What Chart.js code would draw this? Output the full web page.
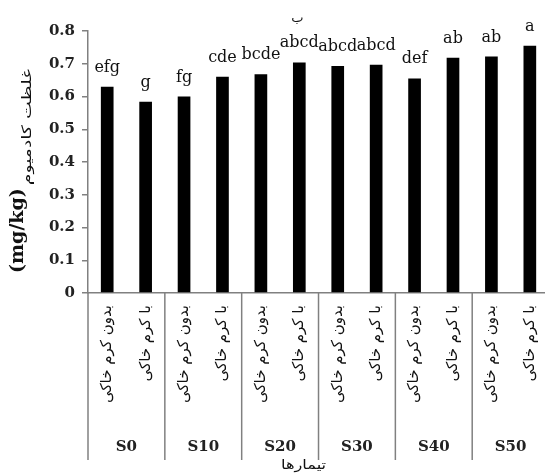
<!DOCTYPE html>
<html>
<head>
<meta charset="utf-8">
<script src="https://cdn.jsdelivr.net/npm/chart.js@4.4.0/dist/chart.umd.min.js"></script>
<style>
html,body{margin:0;padding:0;background:#fff;overflow:hidden;}
#wrap{width:545px;height:474px;overflow:hidden;position:relative;}
#box{width:560px;height:474px;position:absolute;left:0;top:0;}
</style>
</head>
<body>
<div id="wrap"><div id="box"><canvas id="c"></canvas></div></div>
<script>
const categories = ['بدون کرم خاکی','با کرم خاکی','بدون کرم خاکی','با کرم خاکی','بدون کرم خاکی','با کرم خاکی','بدون کرم خاکی','با کرم خاکی','بدون کرم خاکی','با کرم خاکی','بدون کرم خاکی','با کرم خاکی'];
const groups = ['S0','S10','S20','S30','S40','S50'];
const values = [0.630, 0.584, 0.600, 0.660, 0.668, 0.704, 0.693, 0.697, 0.655, 0.718, 0.722, 0.755];
const letters = ['efg','g','fg','cde','bcde','abcd','abcd','abcd','def','ab','ab','a'];
const extraMarks = [{index: 5, text: 'ب'}];
const yTicks = [0, 0.1, 0.2, 0.3, 0.4, 0.5, 0.6, 0.7, 0.8];
const yTitleUnit = '(mg/kg)';
const yTitleText = 'غلظت کادمیوم';
const xTitle = 'تیمارها';

const AXIS = '#808080';

const decor = {
  id: 'decor',
  afterDatasetsDraw(chart) {
    const ctx = chart.ctx;
    const meta = chart.getDatasetMeta(0);
    ctx.save();
    ctx.fillStyle = '#111';
    ctx.textAlign = 'center';
    ctx.textBaseline = 'alphabetic';
    ctx.font = '16px "DejaVu Serif"';
    meta.data.forEach((bar, i) => {
      ctx.fillText(letters[i], bar.x, bar.y - 15);
    });
    ctx.font = '13px "DejaVu Sans"';
    extraMarks.forEach(m => {
      const bar = meta.data[m.index];
      ctx.fillText(m.text, bar.x - 2, bar.y - 40);
    });
    ctx.restore();
  },
  afterDraw(chart) {
    const ctx = chart.ctx;
    const xs = chart.scales.x;
    const area = chart.chartArea;
    const cw = xs.getPixelForValue(1) - xs.getPixelForValue(0);
    ctx.save();
    ctx.strokeStyle = AXIS;
    ctx.lineWidth = 1.5;
    for (let g = 0; g <= groups.length; g++) {
      const px = g < groups.length ? xs.getPixelForValue(g * 2) - cw / 2 : xs.getPixelForValue(g * 2 - 1) + cw / 2;
      ctx.beginPath();
      ctx.moveTo(px, area.bottom);
      ctx.lineTo(px, chart.height - 14);
      ctx.stroke();
    }
    // y title
    ctx.fillStyle = '#111';
    ctx.translate(23, area.bottom - 20);
    ctx.rotate(-Math.PI / 2);
    ctx.textAlign = 'left';
    ctx.textBaseline = 'alphabetic';
    ctx.font = 'bold 19px "DejaVu Serif"';
    ctx.fillText(yTitleUnit, 0, 0);
    const w = ctx.measureText(yTitleUnit).width;
    ctx.font = '13px "DejaVu Sans"';
    ctx.translate(w + 3, 8);
    ctx.scale(1.45, 1);
    ctx.fillText(yTitleText, 0, 0);
    ctx.restore();
    // x title
    ctx.save();
    ctx.fillStyle = '#111';
    ctx.font = '13px "DejaVu Sans"';
    ctx.textAlign = 'center';
    ctx.textBaseline = 'middle';
    ctx.translate((area.left + area.right) / 2 - 15, chart.height - 8);
    ctx.scale(1.25, 1);
    ctx.fillText(xTitle, 0, 0);
    ctx.restore();
  }
};

new Chart(document.getElementById('c'), {
  type: 'bar',
  data: {
    labels: categories,
    datasets: [{
      data: values,
      backgroundColor: '#000',
      borderWidth: 0,
      categoryPercentage: 1,
      barPercentage: 0.33
    }]
  },
  options: {
    responsive: true,
    maintainAspectRatio: false,
    animation: false,
    devicePixelRatio: 1,
    layout: { padding: { top: 31, left: 0, right: 4, bottom: 0 } },
    plugins: { legend: { display: false }, tooltip: { enabled: false } },
    scales: {
      x: {
        type: 'category',
        position: 'bottom',
        grid: { display: false, drawTicks: false },
        border: { display: true, color: AXIS, width: 1.5 },
        ticks: {
          autoSkip: false,
          minRotation: 90,
          maxRotation: 90,
          padding: 12,
          color: '#111',
          font: { family: 'DejaVu Sans', size: 15 }
        },
        afterFit(s) { s.height = 140; }
      },
      x2: {
        type: 'category',
        position: 'bottom',
        labels: groups,
        offset: true,
        grid: { display: false, drawTicks: false },
        border: { display: false },
        ticks: {
          autoSkip: false,
          maxRotation: 0,
          padding: 5,
          color: '#222',
          font: { family: 'DejaVu Serif', size: 15, weight: 'bold' }
        },
        afterFit(s) { s.height = 41; }
      },
      y: {
        min: 0,
        max: 0.8,
        afterBuildTicks(s) { s.ticks = yTicks.map(v => ({ value: v })); },
        grid: { drawOnChartArea: false, drawTicks: true, tickLength: 6, color: AXIS, lineWidth: 1.5 },
        border: { display: true, color: AXIS, width: 1.5 },
        ticks: {
          padding: 7,
          color: '#222',
          font: { family: 'DejaVu Serif', size: 15, weight: 'bold' },
          callback: (v) => String(Math.round(v * 10) / 10)
        },
        afterFit(s) { s.width = 88; }
      }
    }
  },
  plugins: [decor]
});
</script>
</body>
</html>
